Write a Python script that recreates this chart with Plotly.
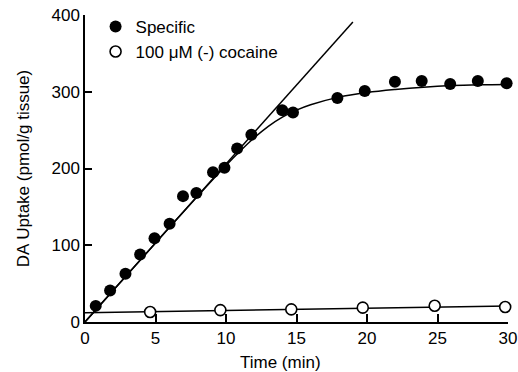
import plotly.graph_objects as go

# Specific uptake (filled circles)
specific_t = [0.76, 1.78, 2.87, 3.91, 4.93, 6.0, 6.95, 7.9, 9.08, 9.89, 10.79, 11.8, 13.99, 14.75, 17.9, 19.84, 21.98, 23.88, 25.9, 27.86, 29.9]
specific_y = [21, 41, 63, 88, 109, 128, 164, 168, 195, 201, 226, 244, 276, 273, 292, 301, 313, 314, 310, 314, 311]

# 100 uM (-) cocaine (open circles)
cocaine_t = [4.62, 9.6, 14.63, 19.7, 24.8, 29.8]
cocaine_y = [13, 15.5, 16.5, 18.7, 21.2, 19.5]

# fitted curve through specific uptake
fit_t = [0, 5, 10, 12, 13, 14, 15, 16, 18, 20, 22, 24, 26, 28, 30]
fit_y = [0, 103, 204, 240, 255, 267, 276, 283, 293, 299, 303, 306, 308, 309, 309.5]

# initial-rate tangent line
tangent_t = [0, 19.0]
tangent_y = [0, 391]

# cocaine regression line
cocaine_fit_t = [0, 30]
cocaine_fit_y = [12, 21]

x_ticks = [0, 5, 10, 15, 20, 25, 30]
y_ticks = [0, 100, 200, 300, 400]

FONT = "Liberation Sans, Arial, sans-serif"

fig = go.Figure()

fig.add_trace(go.Scatter(x=tangent_t, y=tangent_y, mode="lines",
                         line=dict(color="black", width=1.5), showlegend=False,
                         hoverinfo="skip"))
fig.add_trace(go.Scatter(x=fit_t, y=fit_y, mode="lines",
                         line=dict(color="black", width=1.5, shape="spline"),
                         showlegend=False, hoverinfo="skip"))
fig.add_trace(go.Scatter(x=cocaine_fit_t, y=cocaine_fit_y, mode="lines",
                         line=dict(color="black", width=1.5), showlegend=False,
                         hoverinfo="skip", cliponaxis=False))
fig.add_trace(go.Scatter(x=specific_t, y=specific_y, mode="markers", name="Specific",
                         marker=dict(color="black", size=12, symbol="circle"),
                         cliponaxis=False))
fig.add_trace(go.Scatter(x=cocaine_t, y=cocaine_y, mode="markers", name="100 \u03bcM (-) cocaine",
                         marker=dict(color="white", size=11, symbol="circle",
                                     line=dict(color="black", width=1.6)),
                         cliponaxis=False))

fig.update_layout(
    width=518, height=372,
    margin=dict(l=85, r=10, t=15, b=50, autoexpand=False),
    paper_bgcolor="white", plot_bgcolor="white",
    font=dict(family=FONT, size=17, color="black"),
    legend=dict(x=0.025, y=1.02, xanchor="left", yanchor="top",
                bgcolor="rgba(0,0,0,0)", font=dict(size=17),
                itemwidth=30, tracegroupgap=0),
    showlegend=True,
    annotations=[dict(text="Time (min)", xref="paper", yref="paper",
                      x=(280 - 85) / 423, y=-40 / 307, xanchor="center", yanchor="middle",
                      showarrow=False, font=dict(size=17))],
)
fig.update_xaxes(range=[0, 30], tickvals=x_ticks, ticktext=[str(v) for v in x_ticks],
                 showgrid=False, zeroline=False, showline=True, linecolor="black",
                 linewidth=1.5, ticks="inside", ticklen=8, tickwidth=1.5, tickcolor="black",
                 automargin=False)
fig.update_yaxes(range=[0, 400], tickvals=y_ticks, ticktext=[str(v) for v in y_ticks],
                 showgrid=False, zeroline=False, showline=True, linecolor="black",
                 linewidth=1.5, ticks="inside", ticklen=7, tickwidth=1.5, tickcolor="black",
                 automargin=False,
                 title=dict(text="DA Uptake (pmol/g tissue)", font=dict(size=17), standoff=18))

fig.write_html("out.html", config={"displayModeBar": False},
               post_script="document.body.style.margin='0px';")
